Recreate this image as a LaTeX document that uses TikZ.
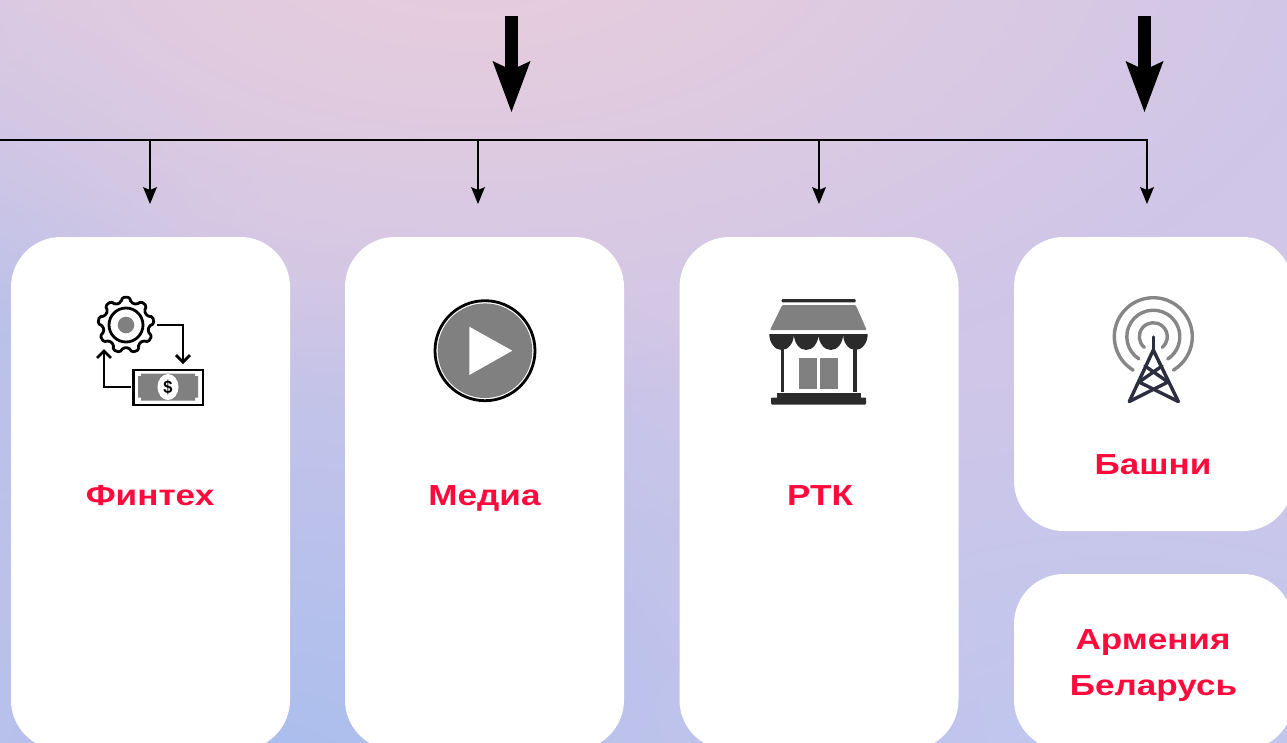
\documentclass[tikz,border=0pt]{standalone}
\usepackage{fontspec}
\setmainfont{Liberation Sans}[FakeStretch=1.21]
\usetikzlibrary{arrows.meta,fadings}
\definecolor{bgbase}{HTML}{CFC6E8}
\definecolor{bgpink}{HTML}{EACEDC}
\definecolor{bgblue}{HTML}{A9BEEE}
\definecolor{bgblueb}{HTML}{BCC6F0}
\definecolor{labelred}{HTML}{FF0A3C}
\definecolor{icongray}{HTML}{808080}
\definecolor{icondark}{HTML}{2B2B2B}
\definecolor{towerdark}{HTML}{2D2D40}
\tikzfading[name=blobfade,inner color=transparent!0,outer color=transparent!100]
\tikzset{
  card/.style={fill=white,rounded corners=50pt,minimum width=279pt,inner sep=0pt},
  cardlabel/.style={text=labelred,font=\fontsize{29}{34}\selectfont\bfseries,inner sep=0pt,text height=21pt,text depth=0pt},
  bigarrow/.style={line width=13pt,-{Stealth[length=51pt,width=38pt,inset=9pt,line width=0pt]}},
  subarrow/.style={line width=2pt,-{Stealth[length=17pt,width=14pt,inset=3pt,line width=0pt]}},
  iconline/.style={line width=2.8pt,black},
  iconarrow/.style={iconline,-{Straight Barb[length=7pt,width=14pt,line width=2.8pt]}},
  towerarc/.style={line width=3.4pt,color=icongray!95,line cap=round},
  towerbar/.style={line width=3.4pt,towerdark,line cap=round,line join=round}
}
\begin{document}
\begin{tikzpicture}[x=1pt,y=-1pt]
  \useasboundingbox (0,0) rectangle (1287,742);
  % background
  \fill[bgbase] (-3,-3) rectangle (1290,745);
  \fill[bgblue,path fading=blobfade] (270,790) ellipse [x radius=720,y radius=560];
  \fill[bgblue,opacity=.6,path fading=blobfade] (-60,300) ellipse [x radius=340,y radius=300];
  \fill[bgblueb,path fading=blobfade] (1120,800) ellipse [x radius=650,y radius=420];
  \fill[bgpink,path fading=blobfade] (470,-70) ellipse [x radius=900,y radius=480];
  % cards
  \node[card,minimum height=513pt] (fintechcard) at (150.5,493.5) {};
  \node[card,minimum height=513pt] (mediacard) at (484.5,493.5) {};
  \node[card,minimum height=513pt] (rtkcard) at (819,493.5) {};
  \node[card,minimum height=294pt] (towercard) at (1153.5,384) {};
  \node[card,minimum height=176pt] (armcard) at (1153.5,662) {};
  % labels
  \node[cardlabel] (fintech) at (150,495) {Финтех};
  \node[cardlabel] (media) at (484.5,495) {Медиа};
  \node[cardlabel] (rtk) at (820,495) {РТК};
  \node[cardlabel] (tower) at (1153,463.5) {Башни};
  \node[cardlabel] (armenia) at (1153,639) {Армения};
  \node[cardlabel] (belarus) at (1153.5,684.5) {Беларусь};
  % arrows
  \coordinate (bigm) at (511.5,16);
  \coordinate (bigmend) at (511.5,112);
  \coordinate (bigr) at (1144.5,16);
  \coordinate (bigrend) at (1144.5,112);
  \draw[bigarrow] (bigm) -- (bigmend);
  \draw[bigarrow] (bigr) -- (bigrend);
  \coordinate (busl) at (0,140);
  \coordinate (busa) at (150,140);
  \coordinate (busb) at (478,140);
  \coordinate (busc) at (819,140);
  \coordinate (busd) at (1147,140);
  \coordinate (enda) at (150,204);
  \coordinate (endb) at (478,204);
  \coordinate (endc) at (819,204);
  \coordinate (endd) at (1147,204);
  \draw[line width=2.8pt,line cap=rect] (busl) -- (busd);
  \draw[subarrow] (busa) -- (enda);
  \draw[subarrow] (busb) -- (endb);
  \draw[subarrow] (busc) -- (endc);
  \draw[subarrow] (busd) -- (endd);
  % gear and bill
  \begin{scope}[shift={(126,325)}]
    \draw[iconline,line join=round,rounded corners=1.5pt] (-103:23)
      \foreach \a in {-90,-50,...,230} {
        -- (\a-13:23) -- (\a-7:28) -- (\a+7:28) -- (\a+13:23)
      } -- cycle;
    \draw[iconline] (0,0) circle (17);
    \fill[icongray] (0,0) circle (8.3);
  \end{scope}
  \coordinate (gearout) at (157,325);
  \coordinate (gearbend) at (183,325);
  \coordinate (billin) at (183,364);
  \coordinate (billout) at (131,387);
  \coordinate (billbend) at (104,387);
  \coordinate (gearin) at (104,349);
  \draw[iconarrow] (gearout) -- (gearbend) -- (billin);
  \draw[iconarrow] (billout) -- (billbend) -- (gearin);
  \draw[iconline] (133.5,370) rectangle (203,405);
  \fill[icongray] (141,373.5) -- (195,373.5) -- (195,376) -- (198,376) -- (198,397.5) -- (195,397.5) -- (195,400.5) -- (141,400.5) -- (141,397.5) -- (138,397.5) -- (138,376) -- (141,376) -- cycle;
  \fill[white] (168,387) ellipse [x radius=10.5,y radius=13];
  \node[inner sep=0pt,font=\fontsize{18}{18}\selectfont\bfseries,xscale=.75] (dollar) at (168,387) {\$};
  % play
  \draw[iconline] (485,350.7) circle (50);
  \fill[icongray] (485,350.7) circle (47.3);
  \fill[white] (469.3,326.7) -- (512.3,350.7) -- (469.3,375) -- cycle;
  % shop
  \fill[icondark,rounded corners=1pt] (781.7,299) rectangle (855.7,302.3);
  \fill[icongray,rounded corners=1pt] (782.3,305) -- (855.7,305) -- (866.7,330) -- (770,330) -- cycle;
  \fill[icondark] (769.3,334) -- (867.7,334) arc [start angle=0,end angle=180,x radius=12.3,y radius=16]
    arc [start angle=0,end angle=180,x radius=12.3,y radius=16]
    arc [start angle=0,end angle=180,x radius=12.3,y radius=16]
    arc [start angle=0,end angle=180,x radius=12.3,y radius=16] -- cycle;
  \fill[icondark] (780.7,345) rectangle (784,392);
  \fill[icondark] (853.3,345) rectangle (856.7,392);
  \fill[icongray] (799,358.3) rectangle (817.3,389.3);
  \fill[icongray] (820,358.3) rectangle (838,389.3);
  \fill[icondark] (776.7,393.3) rectangle (860.7,398);
  \fill[icondark,rounded corners=1pt] (771,397.5) rectangle (866,404.5);
  % tower
  \begin{scope}[shift={(1153.3,336.7)}]
    \draw[towerarc] (-239:39) arc [start angle=-239,end angle=59,radius=39];
    \draw[towerarc] (-237:26.5) arc [start angle=-237,end angle=57,radius=26.5];
    \draw[towerarc] (-230:14) arc [start angle=-230,end angle=50,radius=14];
  \end{scope}
  \draw[towerbar] (1153.3,337) -- (1153.3,350);
  \draw[towerbar] (1129.3,401.5) -- (1153.3,350) -- (1178.3,401.5);
  \draw[towerbar] (1145,366) -- (1168,382) -- (1129.3,401.5);
  \draw[towerbar] (1162,366) -- (1139,382) -- (1178.3,401.5);
\end{tikzpicture}
\end{document}
